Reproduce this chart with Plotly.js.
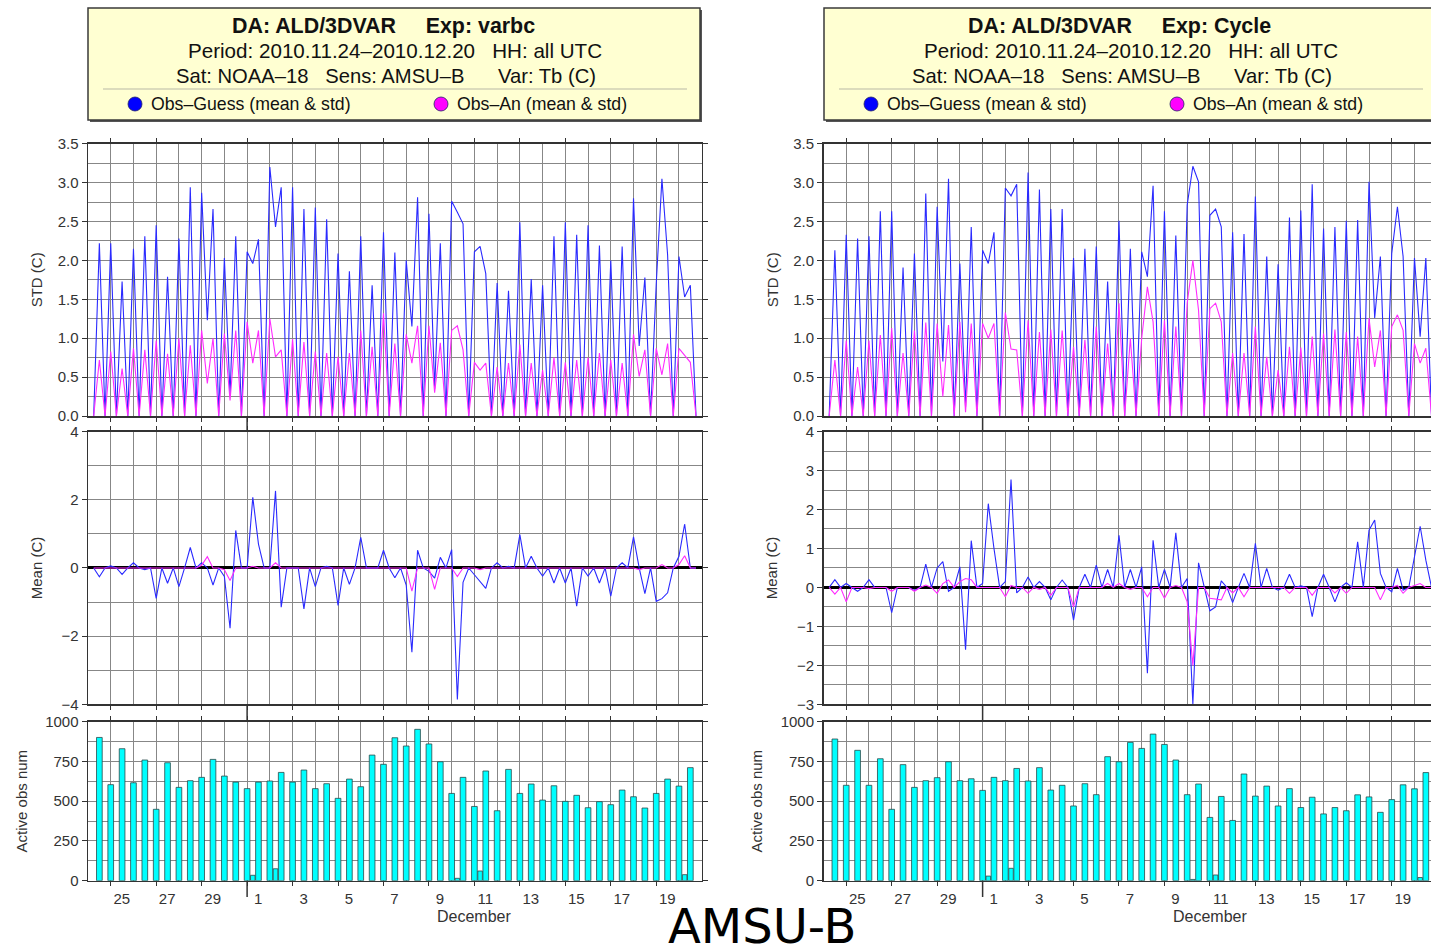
<!DOCTYPE html>
<html>
<head>
<meta charset="utf-8">
<script src="https://cdn.plot.ly/plotly-3.0.1.min.js"></script>
<style>
  html, body { margin: 0; padding: 0; overflow: hidden; background: #ffffff; }
  #chart { width: 1440px; height: 950px; }
</style>
</head>
<body>
<div id="chart"></div>
<script>
// ---------------------------------------------------------------
// AMSU-B (NOAA-18) departure statistics, 2010.11.24 - 2010.12.20
// Values at 00/12 UTC ("main") and at 06/18 UTC ("off") slots.
// ---------------------------------------------------------------

// Exp: varbc  -- STD of Obs-Guess / Obs-An at 00/12 UTC
const stdFgL = [2.22,2.22,1.73,2.15,2.31,2.45,1.79,2.28,2.94,2.87,
  2.66,2.03,2.31,2.11,2.27,3.20,2.94,2.94,2.66,2.68,
  2.53,2.09,1.86,2.31,1.68,2.36,2.10,2.00,2.81,2.60,
  2.22,2.76,2.47,2.11,1.83,1.71,1.61,2.49,1.76,1.68,
  2.31,2.49,2.33,2.45,2.19,2.00,2.18,2.80,1.78,1.70,
  2.07,2.05,1.68];
const stdAnL = [0.72,0.83,0.61,0.87,0.85,0.97,0.80,1.00,0.91,1.10,
  1.00,1.06,1.10,1.21,1.10,1.25,0.85,0.99,0.95,0.83,
  0.81,0.76,0.81,1.10,0.89,1.32,0.93,1.05,1.16,1.16,
  0.94,1.10,0.85,0.69,0.68,0.63,0.68,0.92,0.68,0.59,
  0.75,0.69,0.72,0.75,0.81,0.72,0.68,1.05,0.85,0.87,
  0.93,0.87,0.69];
// Exp: varbc  -- STD at 06/18 UTC
const stdFgOffL = [0,0,0,0,0,0,0,0,0,0,
  1.23,0,0.27,0,1.96,0,2.43,0,0,0,
  0,0,0,0,0,0,0,0,1.15,0,
  0.35,0,2.62,0,2.18,0,0,0,0,0,
  0,0,0,0,0,0,0,0,0.90,0,
  3.05,0,1.53,0];
const stdAnOffL = [0,0,0,0,0,0,0,0,0,0,
  0.42,0,0.20,0,0.68,0,0.76,0,0,0,
  0,0,0,0,0,0,0,0,0.68,0,
  0.30,0,1.16,0,0.59,0,0,0,0,0,
  0,0,0,0,0,0,0,0,0.51,0,
  0.53,0,0.78,0];
// Exp: varbc  -- mean departures at 00/12 UTC
const meanFgL = [-0.26,0.06,-0.19,0.15,-0.05,-0.89,-0.45,-0.55,0.60,0.15,
  -0.50,-0.25,1.10,0.00,0.70,0.00,-1.15,0.00,-1.20,-0.55,
  0.05,-1.10,-0.48,0.90,0.00,0.52,-0.29,-0.50,0.52,-0.10,
  0.31,0.54,-0.42,-0.20,-0.60,0.15,0.05,0.98,0.34,-0.24,
  -0.44,-0.44,-1.12,-0.24,-0.44,-0.83,0.15,0.91,-0.75,-0.98,
  -0.73,0.34,0.00];
const meanAnL = [0,0,0,0,0,0,0,0,0,0.08,
  0,-0.05,0,0,0,0,0,0,0,0,
  0,0,0,0,0,0,0,0,0,0,
  0,0,0,0,0,0,0,0,0,0,
  0,0,0,0,0,0,0,0,0,0,
  0,0.10,0];
// Exp: varbc  -- mean departures at 06/18 UTC
const meanFgOffL = [0,0,0,0,0,0,0,0,0,0,
  0,0,-1.77,0,2.07,0,2.26,0,0,0,
  0,0,0,0,0,0,0,0,-2.47,0,
  -0.30,0,-3.86,0,-0.40,0,0,0,0,0,
  0,0,0,0,0,0,0,0,0,0,
  -0.90,0,1.29,0];
const meanAnOffL = [0,0,0,0,0,0,0,0,0,0,
  0.33,0,-0.37,0,0.05,0,0.15,0,0,0,
  0,0,0,0,0,0,0,0,-0.68,0,
  -0.63,0,-0.25,0,-0.05,0,0,0,0,0,
  0,0,0,0,0,0,0,0,-0.05,0,
  0.10,0,0.36,0];
// Exp: varbc  -- active observations
const obsL = [901,604,830,616,759,449,742,587,629,650,
  763,658,620,579,620,627,681,620,696,579,
  610,518,639,591,790,732,899,847,952,860,
  748,549,650,467,690,440,700,549,608,507,
  597,499,537,459,497,478,570,528,457,549,
  639,595,711];
const obsOffL = [0,0,0,0,0,0,0,0,0,0,
  0,0,0,0,34,0,75,0,0,0,
  0,0,0,0,0,0,0,0,0,0,
  0,0,15,0,61,0,0,0,0,0,
  0,0,0,0,0,0,0,0,0,0,
  0,0,38,0];

// Exp: Cycle  -- STD at 00/12 UTC
const stdFgR = [2.13,2.33,2.28,2.31,2.63,2.63,1.91,2.09,2.86,2.69,
  3.05,1.96,2.43,2.13,2.36,2.93,2.98,3.13,2.91,2.66,
  2.66,2.03,2.15,2.18,1.73,2.51,2.15,2.11,2.96,2.63,
  2.32,2.71,3.01,2.58,2.43,2.36,2.34,2.82,2.05,1.95,
  2.55,2.64,2.98,2.41,2.43,2.51,2.52,3.01,2.05,2.09,
  2.05,2.03,2.03];
const stdAnR = [0.72,0.97,0.63,0.97,1.04,1.13,0.81,1.10,1.20,1.19,
  1.17,1.21,1.19,1.19,1.19,1.33,0.85,1.23,1.08,1.11,
  1.10,0.89,0.98,1.15,0.93,1.45,1.00,1.00,1.21,1.23,
  1.15,1.45,1.36,1.38,1.21,0.81,0.81,1.15,0.76,0.59,
  0.89,0.88,1.02,1.06,1.11,1.08,1.02,1.26,1.10,1.15,
  1.10,0.93,0.87];
// Exp: Cycle  -- STD at 06/18 UTC
const stdFgOffR = [0,0,0,0,0,0,0,0,0,0,
  0.70,0,0.12,0,1.96,0,2.83,0,0,0,
  0,0,0,0,0,0,0,0,1.79,0,
  0,0,3.21,0,2.66,0,0,0,0,0,
  0,0,0,0,0,0,0,0,1.26,0,
  2.69,0,1.02,0];
const stdAnOffR = [0,0,0,0,0,0,0,0,0,0,
  0.25,0,0.05,0,1.00,0,0.86,0,0,0,
  0,0,0,0,0,0,0,0,1.66,0,
  0,0,2.00,0,1.45,0,0,0,0,0,
  0,0,0,0,0,0,0,0,0.63,0,
  1.30,0,0.68,0];
// Exp: Cycle  -- mean departures at 00/12 UTC
const meanFgR = [0.20,0.10,-0.10,0.20,0.00,-0.65,0.00,-0.08,0.60,0.50,
  -0.10,0.53,1.20,0.10,1.00,0.15,-0.14,0.27,0.15,-0.32,
  0.19,-0.84,0.34,0.57,0.46,1.34,0.46,0.53,1.21,0.46,
  1.40,0.23,0.63,-0.60,0.17,-0.39,0.36,1.13,0.49,-0.07,
  0.34,0.04,-0.75,0.34,-0.37,0.12,1.17,1.47,0.36,-0.11,
  -0.07,0.78,0.70];
const meanAnR = [-0.17,-0.37,0,-0.03,0,-0.10,0,-0.10,0.06,-0.15,
  0.19,0.15,0.20,0,0,-0.24,0,-0.15,-0.05,-0.20,
  0,-0.50,0,0,0.10,0.10,-0.05,0,0,-0.28,
  0.05,-0.37,0,-0.28,-0.32,-0.14,-0.24,0,0,0,
  -0.15,0,-0.20,0,-0.14,-0.15,0,0,-0.32,0,
  -0.15,0.05,0];
// Exp: Cycle  -- mean departures at 06/18 UTC
const meanFgOffR = [0,0,0,0,0,0,0,0,0,0,
  0.66,0,-1.60,0,2.15,0,2.77,0,0,0,
  0,0,0,0,0,0,0,0,-2.20,0,
  0,0,-3.00,0,-0.50,0,0,0,0,0,
  0,0,0,0,0,0,0,0,1.73,0,
  0.49,0,1.57,0];
const meanAnOffR = [0,0,0,0,0,0,0,0,0,0,
  0.10,0,0.23,0,0,0,0.05,0,0,0,
  0,0,0,0,0,0,0,0,-0.24,0,
  0,0,-2.00,0,-0.30,0,0,0,0,0,
  0,0,0,0,0,0,0,0,0,0,
  0.05,0,0.10,0];
// Exp: Cycle  -- active observations
const obsR = [891,600,820,600,767,449,730,587,629,648,
  748,629,641,568,650,629,706,627,711,570,
  600,470,610,541,780,748,870,832,922,857,
  759,541,608,398,530,379,671,532,595,470,
  579,460,525,420,460,440,540,527,430,510,
  603,578,680];
const obsOffR = [0,0,0,0,0,0,0,0,0,0,
  0,0,0,0,29,0,78,0,0,0,
  0,0,0,0,0,0,0,0,0,0,
  0,0,8,0,36,0,0,0,0,0,
  0,0,0,0,0,0,0,0,0,0,
  0,0,20,0];

// Day-of-month tick labels (every second day)
const tickDates = ['2010-11-25','2010-11-27','2010-11-29','2010-12-01','2010-12-03',
  '2010-12-05','2010-12-07','2010-12-09','2010-12-11','2010-12-13','2010-12-15',
  '2010-12-17','2010-12-19'];
const tickText = ['25','27','29','1','3','5','7','9','11','13','15','17','19'];

// ---------------------------------------------------------------
const DAY = 86400000;
const T_MAIN0 = Date.UTC(2010, 10, 24, 12);
const T_OFF0 = Date.UTC(2010, 10, 24, 6);
const iso = ms => new Date(ms).toISOString().slice(0, 16).replace('T', ' ');
const mainTimes = obsL.map((_, i) => iso(T_MAIN0 + i * DAY / 2));
const offTimes = obsOffL.map((_, j) => iso(T_OFF0 + j * DAY / 2));
const allTimes = [];
offTimes.forEach((t, j) => { allTimes.push(t); if (j < mainTimes.length) allTimes.push(mainTimes[j]); });
function merge(main, off) {
  const out = [];
  off.forEach((v, j) => { out.push(v); if (j < main.length) out.push(main[j]); });
  return out;
}

const BLUE = '#2a2aff', MAG = '#ff2bff', CYAN = '#00ffff';
const FONT = 'Liberation Sans, Arial, Helvetica, sans-serif';
const W = 1440, H = 950;
const px = v => v / W;
const py = v => 1 - v / H;
const LX = [88, 701.7], RX = [823.5, 1437.2];
const STD_Y = [416, 143.7], MEAN_Y = [704.3, 431.6], OBS_Y = [880.7, 721.7];
const GRID = '#878787', FRAME = '#333333';

function lineTrace(x, y, color, xa, ya) {
  return { type: 'scatter', mode: 'lines', x, y, xaxis: xa, yaxis: ya,
    line: { color, width: 1.1 }, hoverinfo: 'skip', showlegend: false };
}
function barTraces(main, off, xa, ya) {
  const ox = [], oy = [];
  off.forEach((v, j) => { if (v > 0) { ox.push(offTimes[j]); oy.push(v); } });
  const style = { color: CYAN, line: { color: '#2b4a4a', width: 0.8 } };
  return [
    { type: 'bar', x: mainTimes, y: main, xaxis: xa, yaxis: ya, width: 0.25 * DAY,
      marker: style, hoverinfo: 'skip', showlegend: false },
    { type: 'bar', x: ox, y: oy, xaxis: xa, yaxis: ya, width: 0.2 * DAY,
      marker: style, hoverinfo: 'skip', showlegend: false }
  ];
}

const traces = [
  lineTrace(allTimes, merge(stdFgL, stdFgOffL), BLUE, 'x', 'y'),
  lineTrace(allTimes, merge(stdAnL, stdAnOffL), MAG, 'x', 'y'),
  lineTrace(allTimes, merge(meanFgL, meanFgOffL), BLUE, 'x2', 'y2'),
  lineTrace(allTimes, merge(meanAnL, meanAnOffL), MAG, 'x2', 'y2'),
  ...barTraces(obsL, obsOffL, 'x3', 'y3'),
  lineTrace(allTimes, merge(stdFgR, stdFgOffR), BLUE, 'x4', 'y4'),
  lineTrace(allTimes, merge(stdAnR, stdAnOffR), MAG, 'x4', 'y4'),
  lineTrace(allTimes, merge(meanFgR, meanFgOffR), BLUE, 'x5', 'y5'),
  lineTrace(allTimes, merge(meanAnR, meanAnOffR), MAG, 'x5', 'y5'),
  ...barTraces(obsR, obsOffR, 'x6', 'y6')
];

const tickFont = { family: FONT, size: 15, color: '#333' };

function xAxis(dom, anchor, labels) {
  return {
    type: 'date', domain: [px(dom[0]), px(dom[1])], anchor,
    range: ['2010-11-24 00:00', '2010-12-21 00:00'],
    tickmode: 'array', tickvals: tickDates, ticktext: tickText,
    showticklabels: labels, ticklabelshift: 11, tickfont: tickFont,
    ticks: 'outside', ticklen: 4, tickwidth: 1, tickcolor: FRAME,
    showline: true, linecolor: FRAME, linewidth: 1.5, mirror: 'ticks',
    showgrid: true, gridcolor: GRID, gridwidth: 1,
    minor: { tickmode: 'linear', tick0: '2010-11-24', dtick: DAY, showgrid: true,
      gridcolor: GRID, gridwidth: 1, ticks: '' },
    zeroline: false, fixedrange: true
  };
}
function yAxis(dom, anchor, range, dtick, minor, fmt, title, standoff, zero) {
  return {
    domain: [py(dom[0]), py(dom[1])], anchor, range,
    tickmode: 'linear', tick0: range[0], dtick, tickformat: fmt, tickfont: tickFont,
    ticks: 'outside', ticklen: 5, tickwidth: 1, tickcolor: FRAME,
    showline: true, linecolor: FRAME, linewidth: 1.5, mirror: 'ticks',
    showgrid: true, gridcolor: GRID, gridwidth: 1,
    minor: { dtick: minor, showgrid: true, gridcolor: GRID, gridwidth: 1, ticks: '' },
    zeroline: zero, zerolinecolor: '#000000', zerolinewidth: 3,
    title: { text: title, font: { family: FONT, size: 15, color: '#333' }, standoff },
    fixedrange: true
  };
}

// Header panels, legend dots and month-boundary ticks
const shapes = [], annotations = [];
function header(x0, x1, exp) {
  const dx = x0 - 88;
  shapes.push({ type: 'rect', xref: 'paper', yref: 'paper', x0: px(x0 + 2), x1: px(x1 + 2),
    y0: py(122), y1: py(10), fillcolor: '#555555', line: { width: 0 }, layer: 'below' });
  shapes.push({ type: 'rect', xref: 'paper', yref: 'paper', x0: px(x0), x1: px(x1),
    y0: py(120), y1: py(8), fillcolor: '#ffffd2', line: { color: '#3a3a3a', width: 1.5 }, layer: 'below' });
  shapes.push({ type: 'line', xref: 'paper', yref: 'paper', x0: px(103 + dx), x1: px(687 + dx),
    y0: py(89), y1: py(89), line: { color: '#b9b9a6', width: 1 } });
  [[135, '#0000ff'], [441, '#ff00ff']].forEach(([cx, col]) => {
    shapes.push({ type: 'circle', xref: 'paper', yref: 'paper', xsizemode: 'pixel', ysizemode: 'pixel',
      xanchor: px(cx + dx), yanchor: py(104), x0: -7, x1: 7, y0: -7, y1: 7,
      fillcolor: col, line: { color: '#222266', width: 0.8 } });
  });
  const nb = n => '\u00a0'.repeat(n);
  const f = size => ({ family: FONT, size, color: '#111' });
  annotations.push({ xref: 'paper', yref: 'paper', x: px(383 + dx), y: py(26), xanchor: 'center', yanchor: 'middle',
    text: '<b>DA: ALD/3DVAR' + nb(5) + 'Exp: ' + exp + '</b>', showarrow: false, font: f(21.4) });
  annotations.push({ xref: 'paper', yref: 'paper', x: px(395 + dx), y: py(51), xanchor: 'center', yanchor: 'middle',
    text: 'Period: 2010.11.24\u20132010.12.20' + nb(3) + 'HH: all UTC', showarrow: false, font: f(20.6) });
  annotations.push({ xref: 'paper', yref: 'paper', x: px(386 + dx), y: py(76), xanchor: 'center', yanchor: 'middle',
    text: 'Sat: NOAA\u201318' + nb(3) + 'Sens: AMSU\u2013B' + nb(6) + 'Var: Tb (C)', showarrow: false, font: f(20.2) });
  annotations.push({ xref: 'paper', yref: 'paper', x: px(149 + dx), y: py(104), xanchor: 'left', yanchor: 'middle',
    text: 'Obs\u2013Guess (mean &amp; std)', showarrow: false, font: f(17.7) });
  annotations.push({ xref: 'paper', yref: 'paper', x: px(455 + dx), y: py(104), xanchor: 'left', yanchor: 'middle',
    text: 'Obs\u2013An (mean &amp; std)', showarrow: false, font: f(17.7) });
}
header(88, 700, 'varbc');
header(824, 1436, 'Cycle');

['x', 'x4'].forEach(xr => {
  [[416, 431.6], [704.3, 721.7], [880.7, 897]].forEach(([a, b]) => {
    shapes.push({ type: 'line', xref: xr, yref: 'paper', x0: '2010-12-01 00:00', x1: '2010-12-01 00:00',
      y0: py(a), y1: py(b), line: { color: FRAME, width: 1.5 } });
  });
});

annotations.push({ xref: 'x3', yref: 'paper', x: '2010-12-11 00:00', y: py(916), xanchor: 'center', yanchor: 'middle',
  text: 'December', showarrow: false, font: { family: FONT, size: 16, color: '#333' } });
annotations.push({ xref: 'x6', yref: 'paper', x: '2010-12-11 00:00', y: py(916), xanchor: 'center', yanchor: 'middle',
  text: 'December', showarrow: false, font: { family: FONT, size: 16, color: '#333' } });
annotations.push({ xref: 'paper', yref: 'paper', x: px(762), y: py(926), xanchor: 'center', yanchor: 'middle',
  text: 'AMSU-B', showarrow: false, font: { family: 'DejaVu Sans, sans-serif', size: 48, color: '#000' } });

const layout = {
  width: W, height: H, margin: { l: 0, r: 0, t: 0, b: 0 },
  paper_bgcolor: '#ffffff', plot_bgcolor: '#ffffff',
  showlegend: false, barmode: 'overlay',
  xaxis: xAxis(LX, 'y', false),
  xaxis2: xAxis(LX, 'y2', false),
  xaxis3: xAxis(LX, 'y3', true),
  xaxis4: xAxis(RX, 'y4', false),
  xaxis5: xAxis(RX, 'y5', false),
  xaxis6: xAxis(RX, 'y6', true),
  yaxis: yAxis(STD_Y, 'x', [0, 3.5], 0.5, 0.25, '.1f', 'STD (C)', 11, false),
  yaxis2: yAxis(MEAN_Y, 'x2', [-4, 4], 2, 1, 'd', 'Mean (C)', 15, true),
  yaxis3: yAxis(OBS_Y, 'x3', [0, 1000], 250, 125, 'd', 'Active obs num', 14, false),
  yaxis4: yAxis(STD_Y, 'x4', [0, 3.5], 0.5, 0.25, '.1f', 'STD (C)', 11, false),
  yaxis5: yAxis(MEAN_Y, 'x5', [-3, 4], 1, 0.5, 'd', 'Mean (C)', 15, true),
  yaxis6: yAxis(OBS_Y, 'x6', [0, 1000], 250, 125, 'd', 'Active obs num', 14, false),
  shapes, annotations
};

Plotly.newPlot('chart', traces, layout, { staticPlot: true, displayModeBar: false });
</script>
</body>
</html>
